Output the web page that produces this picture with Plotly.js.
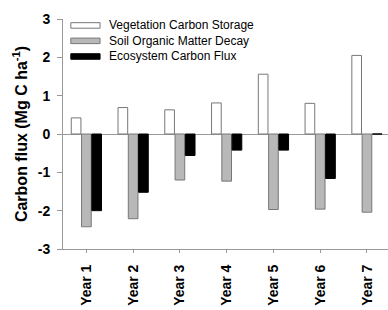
<!DOCTYPE html>
<html><head><meta charset="utf-8">
<script src="https://cdn.plot.ly/plotly-3.0.1.min.js"></script>
<style>html,body{margin:0;padding:0;background:#fff;overflow:hidden}#c{width:388px;height:310px}</style>
</head><body><div id="c"></div>
<script>
const years = ["Year 1","Year 2","Year 3","Year 4","Year 5","Year 6","Year 7"];
const vegetation = [0.42, 0.69, 0.63, 0.81, 1.56, 0.80, 2.05];
const soil = [-2.42, -2.21, -1.20, -1.23, -1.97, -1.96, -2.04];
const ecosystem = [-2.0, -1.52, -0.56, -0.42, -0.42, -1.16, 0];
const names = ["Vegetation Carbon Storage","Soil Organic Matter Decay","Ecosystem Carbon Flux"];
const yTickVals = [-3,-2,-1,0,1,2,3];
const yTickText = ["-3","-2","-1","0","1","2","3"];

const fills = ['#ffffff','#b8b8b8','#000000'];
const edges = ['#777777','#777777','#000000'];
const series = [vegetation, soil, ecosystem];
const traces = series.map((s,i)=>({type:'bar', x:years, y:s, name:names[i], showlegend:false,
  marker:{color:fills[i], line:{color:edges[i], width:1}}}));

// custom legend (wide rectangular swatches like the original)
const FONT = 'Liberation Sans, Arial, sans-serif';
const legendRows = [0.972, 0.905, 0.837];
const shapes = [], annotations = [];
names.forEach((n,i)=>{
  const yc = legendRows[i];
  shapes.push({type:'rect', xref:'paper', yref:'paper', x0:0.024, x1:0.114, y0:yc-0.012, y1:yc+0.012,
    fillcolor:fills[i], line:{color:edges[i], width:1}});
  annotations.push({xref:'paper', yref:'paper', x:0.136, y:yc, xanchor:'left', yanchor:'middle',
    text:n, showarrow:false, font:{size:12, family:FONT, color:'#000'}});
});

const layout = {
  width:388, height:310,
  margin:{l:63, r:0, t:19, b:61},
  paper_bgcolor:'#fff', plot_bgcolor:'#fff',
  barmode:'group', bargap:0.34, bargroupgap:0.06,
  font:{family:FONT, color:'#000'},
  showlegend:false,
  shapes:shapes, annotations:annotations,
  xaxis:{range:[-0.5,6.45], showline:true, linecolor:'#999', linewidth:1, ticks:'outside', ticklen:3, tickcolor:'#999',
    tickangle:-90, ticklabelstandoff:6, tickfont:{size:14, family:FONT, weight:'bold'}, showgrid:false, zeroline:false},
  yaxis:{range:[-3,3], tickmode:'array', tickvals:yTickVals, ticktext:yTickText, showline:true, linecolor:'#999', linewidth:1,
    ticks:'outside', ticklen:5, tickcolor:'#999',
    tickfont:{size:14, family:FONT, weight:'bold'}, showgrid:false,
    zeroline:true, zerolinecolor:'#999', zerolinewidth:1, ticklabelstandoff:4,
    title:{text:'Carbon flux (Mg C ha<sup>-1</sup>)', standoff:6, font:{size:16, weight:'bold', family:FONT}}}
};
Plotly.newPlot('c', traces, layout, {displayModeBar:false, staticPlot:true});
</script></body></html>
